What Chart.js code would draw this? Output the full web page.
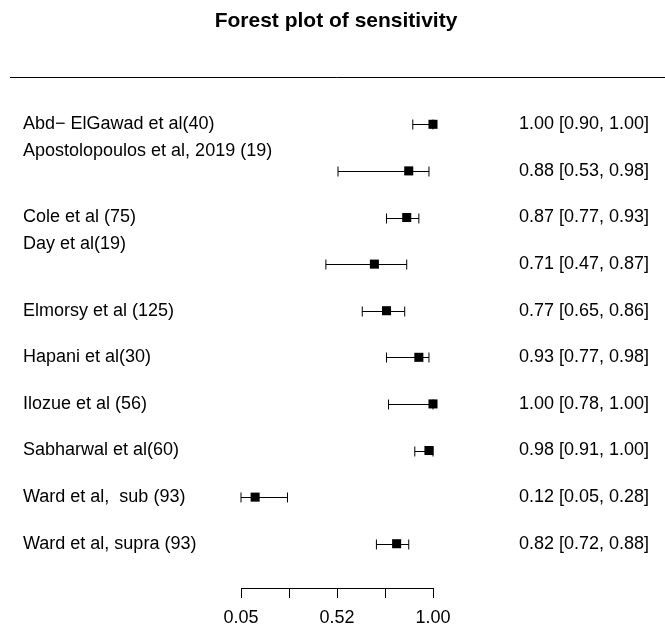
<!DOCTYPE html>
<html>
<head>
<meta charset="utf-8">
<script src="https://cdn.jsdelivr.net/npm/chart.js@4.4.1/dist/chart.umd.min.js"></script>
<style>
    html, body { margin: 0; padding: 0; background: #fff; }
    #wrap { width: 665px; height: 630px; }
</style>
</head>
<body>
<div id="wrap"><canvas id="forestChart"></canvas></div>
<script>
const studies = ['Abd\u2212 ElGawad et al(40)', 'Apostolopoulos et al, 2019 (19)', 'Cole et al (75)', 'Day et al(19)',
    'Elmorsy et al (125)', 'Hapani et al(30)', 'Ilozue et al (56)', 'Sabharwal et al(60)',
    'Ward et al,  sub (93)', 'Ward et al, supra (93)'];
const raisedLabel = [false, true, false, true, false, false, false, false, false, false];
const sensitivity = [1.00, 0.88, 0.87, 0.71, 0.77, 0.93, 1.00, 0.98, 0.12, 0.82];
const lower = [0.90, 0.53, 0.77, 0.47, 0.65, 0.77, 0.78, 0.91, 0.05, 0.72];
const upper = [1.00, 0.98, 0.93, 0.87, 0.86, 0.98, 1.00, 1.00, 0.28, 0.88];
const xTicks = [0.05, 0.2875, 0.525, 0.7625, 1.00];
const xTickLabels = ['0.05', '', '0.52', '', '1.00'];

const rows = studies.map((s, i) => i + 1);

Chart.defaults.font.family = '"Liberation Sans", Arial, sans-serif';
Chart.defaults.font.size = 18;
Chart.defaults.color = '#000';

// whiskers for the confidence intervals + rule under the title
const ciPlugin = {
    id: 'ciLines',
    beforeDatasetsDraw(chart) {
        const ctx = chart.ctx;
        const xs = chart.scales.x;
        const ys = chart.scales.y;
        ctx.save();
        ctx.strokeStyle = '#000';
        ctx.lineWidth = 1;
        rows.forEach((r, i) => {
            const y = Math.round(ys.getPixelForValue(r)) + 0.5;
            const x1 = xs.getPixelForValue(lower[i]);
            const x2 = xs.getPixelForValue(upper[i]);
            ctx.beginPath();
            ctx.moveTo(x1, y);
            ctx.lineTo(x2, y);
            ctx.moveTo(x1, y - 5);
            ctx.lineTo(x1, y + 5);
            ctx.moveTo(x2, y - 5);
            ctx.lineTo(x2, y + 5);
            ctx.stroke();
        });
        ctx.restore();
    },
    afterDraw(chart) {
        const ctx = chart.ctx;
        ctx.save();
        ctx.strokeStyle = '#000';
        ctx.lineWidth = 1;
        ctx.beginPath();
        ctx.moveTo(10, 77.5);
        ctx.lineTo(chart.width, 77.5);
        ctx.stroke();
        ctx.restore();
    }
};

const rowTicks = scale => { scale.ticks = rows.map(v => ({ value: v })); };
const LEFT_AXIS_W = 218;

new Chart(document.getElementById('forestChart').getContext('2d'), {
    type: 'scatter',
    data: {
        datasets: [{
            data: rows.map((r, i) => ({ x: sensitivity[i], y: r })),
            pointStyle: 'rect',
            pointRadius: 6.4,
            pointHoverRadius: 6.4,
            backgroundColor: '#000',
            borderWidth: 0,
            clip: false
        }]
    },
    options: {
        responsive: true,
        maintainAspectRatio: false,
        animation: false,
        layout: { padding: { left: 23, right: 16, top: 0, bottom: 0 } },
        plugins: {
            legend: { display: false },
            tooltip: { enabled: false },
            title: {
                display: true,
                text: 'Forest plot of sensitivity',
                font: { size: 21, weight: 'bold' },
                padding: { top: 9, bottom: 66.8 }
            }
        },
        scales: {
            x: {
                type: 'linear',
                position: 'bottom',
                min: 0.05,
                max: 1.00,
                afterBuildTicks: scale => { scale.ticks = xTicks.map(v => ({ value: v })); },
                afterFit: scale => { scale.height = 42; },
                ticks: {
                    autoSkip: false,
                    maxRotation: 0,
                    padding: 9,
                    callback: (v, i) => xTickLabels[i]
                },
                grid: { drawOnChartArea: false, drawTicks: true, tickLength: 10, color: '#000' },
                border: { display: true, color: '#000' }
            },
            y: {
                type: 'linear',
                position: 'left',
                reverse: true,
                min: 0.5,
                max: 10.95,
                afterBuildTicks: rowTicks,
                afterFit: scale => { scale.width = LEFT_AXIS_W; },
                ticks: {
                    autoSkip: false,
                    // mirrored so long names are not clipped, pulled back to the left margin
                    mirror: true,
                    crossAlign: 'near',
                    padding: -LEFT_AXIS_W,
                    font: { lineHeight: 1.12 },
                    callback: (v, i) => raisedLabel[i] ? [studies[i], '', ''] : studies[i]
                },
                grid: { display: false },
                border: { display: false }
            },
            y1: {
                type: 'linear',
                position: 'right',
                reverse: true,
                min: 0.5,
                max: 10.95,
                afterBuildTicks: rowTicks,
                afterFit: scale => { scale.width = 216; },
                ticks: {
                    autoSkip: false,
                    crossAlign: 'far',
                    callback: (v, i) => `${sensitivity[i].toFixed(2)} [${lower[i].toFixed(2)}, ${upper[i].toFixed(2)}]`
                },
                grid: { display: false },
                border: { display: false }
            }
        }
    },
    plugins: [ciPlugin]
});
</script>
</body>
</html>
